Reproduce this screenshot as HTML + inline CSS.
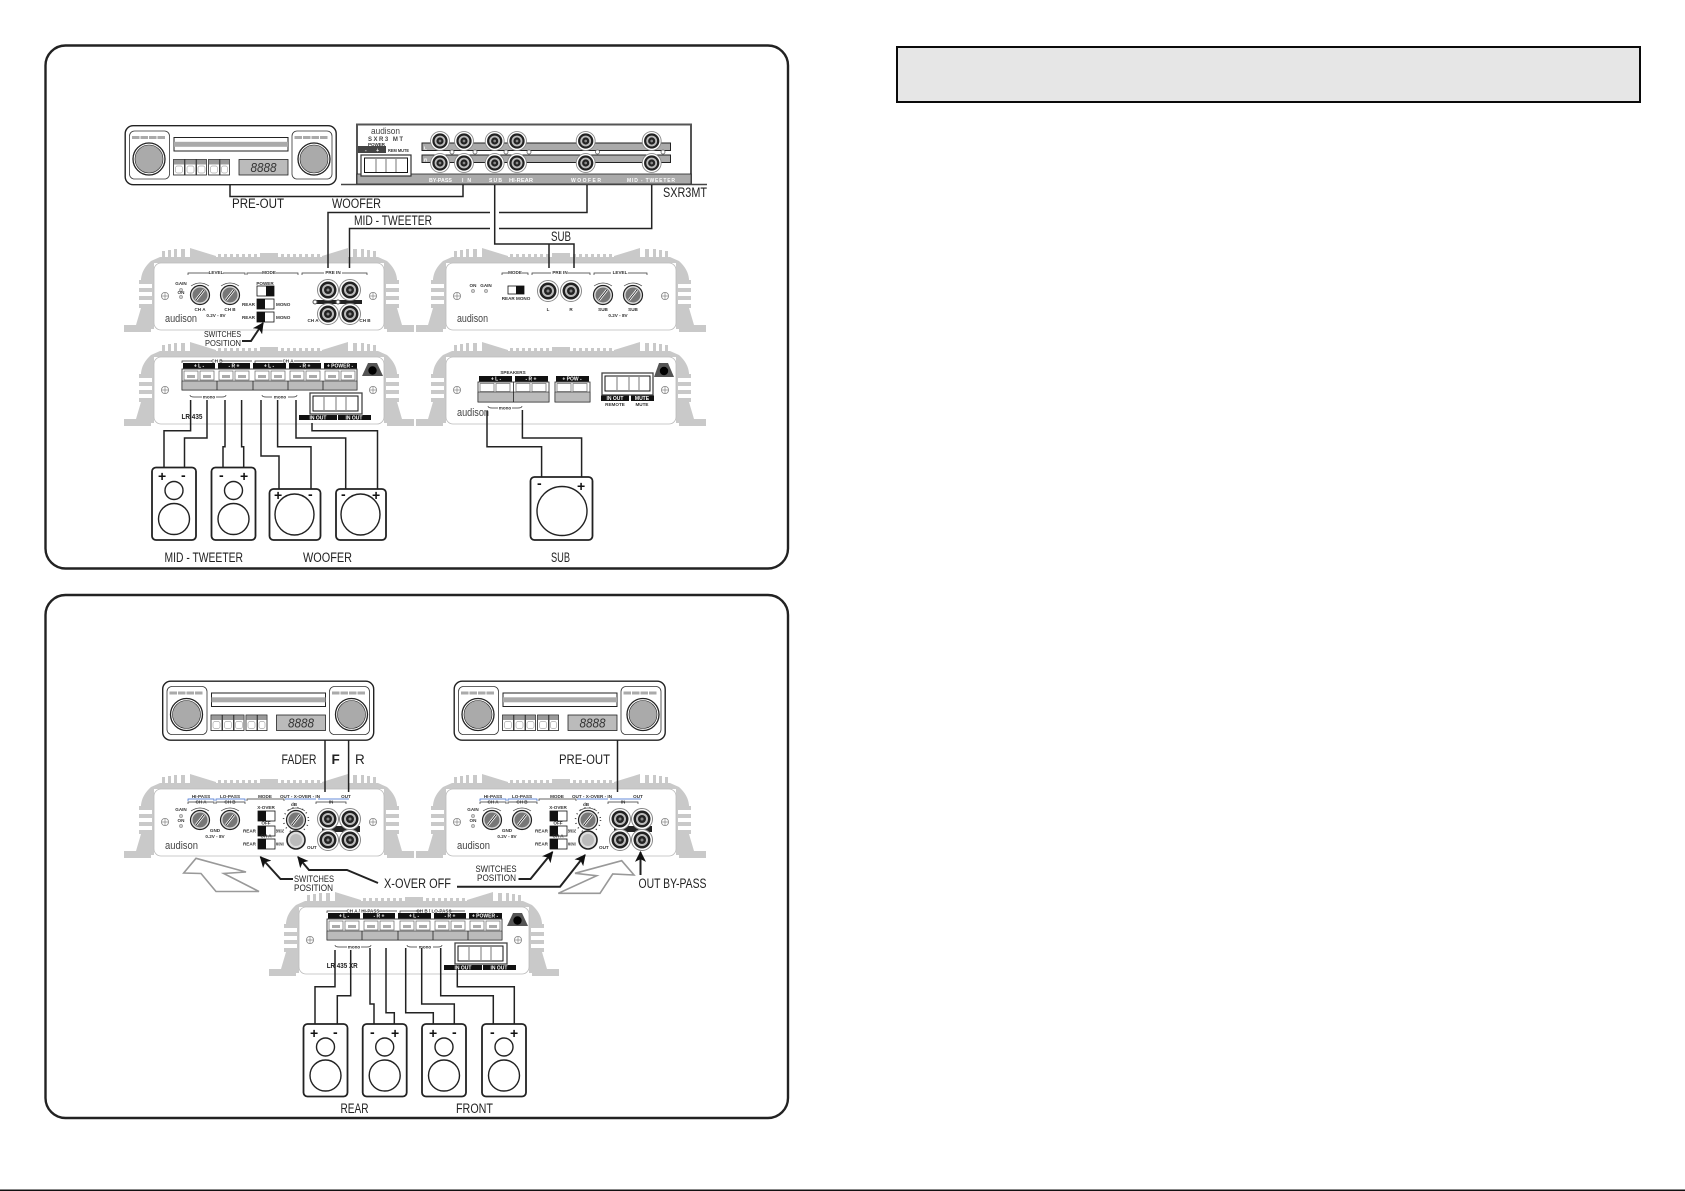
<!DOCTYPE html>
<html><head><meta charset="utf-8"><title>Amplifier wiring diagram</title>
<style>
html,body{margin:0;padding:0;background:#fff}
svg{display:block}
text{font-family:"Liberation Sans",sans-serif;fill:#222}
.l{font-size:13.5px}
.s{font-size:4.6px;font-weight:bold;fill:#333}
.w{font-size:5px;font-weight:bold;fill:#fff}
.au{font-size:11px;fill:#444}
.pm{font-size:14px;font-weight:bold;fill:#111}
.wire{fill:none;stroke:#222;stroke-width:1.5}
.arr{fill:none;stroke:#222;stroke-width:2}
.b{fill:none;stroke:#333;stroke-width:.7}
</style></head>
<body>
<svg width="1685" height="1191" viewBox="0 0 1685 1191" xmlns="http://www.w3.org/2000/svg">
<defs>
<marker id="ah" viewBox="0 0 10 10" refX="9" refY="5" markerWidth="11" markerHeight="11" markerUnits="userSpaceOnUse" orient="auto"><path d="M0 0L10 5L0 10L2.5 5z" fill="#111"/></marker>

<g id="rca"><circle r="10.5" fill="#fff" stroke="#888" stroke-width="1"/><circle r="8.5" fill="#222"/><circle r="6" fill="#bbb"/><circle r="4" fill="#222"/><circle r="1.5" fill="#888"/></g>
<g id="knob"><path d="M-9-9Q0-15 9-9" fill="none" stroke="#444" stroke-width=".7"/><circle r="9.5" fill="#ddd" stroke="#222" stroke-width="1.2"/><circle r="7.5" fill="#777"/><path d="M-4 5L4-5" stroke="#fff" stroke-width="2.5"/><path d="M-4 5L4-5" stroke="#000" stroke-width=".7"/></g>
<g id="screw"><circle r="3.6" fill="none" stroke="#888" stroke-width=".8"/><path d="M-3.6 0H3.6M0-3.6V3.6" stroke="#888" stroke-width=".7"/></g>
<g id="led"><circle r="1.7" fill="#ccc" stroke="#777" stroke-width=".5"/></g>
<g id="sw"><rect width="17" height="10" fill="#fff" stroke="#111" stroke-width=".8"/><rect width="8" height="10" fill="#111"/></g>

<g id="hl" fill="#c9c9c9">
<path d="M-30 69V62H-18L-13 45V16Q-12 6-3-2L6-6H115V0H0V66H-3V69z"/>
<rect x="-15" y="17" width="13" height="4"/><rect x="-15" y="25" width="13" height="4"/><rect x="-15" y="33" width="13" height="4"/><rect x="-15" y="41" width="13" height="4"/>
<rect x="-13" y="21" width="11" height="4" fill="#fff"/><rect x="-13" y="29" width="11" height="4" fill="#fff"/><rect x="-13" y="37" width="11" height="4" fill="#fff"/>
<rect x="8" y="-12" width="3" height="8"/><rect x="14" y="-13" width="3" height="9"/><rect x="20" y="-14" width="3" height="10"/><rect x="27" y="-14" width="4" height="10"/>
<path d="M36-15L62-7V-3H36z"/>
<rect x="64" y="-9" width="3" height="5"/><rect x="70" y="-9" width="3" height="5"/><rect x="76" y="-9" width="3" height="5"/><rect x="82" y="-9" width="3" height="5"/><rect x="88" y="-9" width="3" height="5"/><rect x="94" y="-9" width="3" height="5"/><rect x="100" y="-9" width="3" height="5"/>
<rect x="106" y="-10" width="10" height="6"/>
</g>
<g id="housing">
<use href="#hl"/>
<use href="#hl" transform="translate(230,0) scale(-1,1)"/>
<rect x="0" y="0" width="230" height="67" rx="7" fill="#fff" stroke="#bbb" stroke-width=".8"/>
<use href="#screw" x="11" y="33"/><use href="#screw" x="219" y="33"/>
</g>

<g id="radio">
<rect x=".7" y=".7" width="211" height="59" rx="8" fill="#fff" stroke="#222" stroke-width="1.4"/>
<rect x="5" y="6" width="40" height="48" rx="5" fill="#fff" stroke="#333" stroke-width=".8"/>
<rect x="167.5" y="6" width="40" height="48" rx="5" fill="#fff" stroke="#333" stroke-width=".8"/>
<path d="M7.5 12.5H41M170 12.5H204" stroke="#aaa" stroke-width="3" stroke-dasharray="7.5 1"/>
<circle cx="24.5" cy="34" r="16" fill="#fff" stroke="#222" stroke-width="1.3"/><circle cx="24.5" cy="34" r="14" fill="#aaa" stroke="#222" stroke-width=".6"/>
<circle cx="189.5" cy="34" r="16" fill="#fff" stroke="#222" stroke-width="1.3"/><circle cx="189.5" cy="34" r="14" fill="#aaa" stroke="#222" stroke-width=".6"/>
<rect x="49.5" y="12.5" width="114" height="13.5" fill="#fff" stroke="#222" stroke-width="1"/>
<rect x="49.5" y="16.8" width="114" height="5" fill="#aaa"/>
<g stroke="#222" stroke-width=".8" fill="#fff">
<rect x="49" y="34.5" width="11" height="15.5"/><rect x="60.5" y="34.5" width="11" height="15.5"/><rect x="72" y="34.5" width="10" height="15.5"/><rect x="84" y="34.5" width="11" height="15.5"/><rect x="95.5" y="34.5" width="9.5" height="15.5"/>
</g>
<g fill="#999"><rect x="49.4" y="34.9" width="10.2" height="4.6"/><rect x="60.9" y="34.9" width="10.2" height="4.6"/><rect x="72.4" y="34.9" width="9.2" height="4.6"/><rect x="84.4" y="34.9" width="10.2" height="4.6"/><rect x="95.9" y="34.9" width="8.7" height="4.6"/></g>
<g fill="none" stroke="#aaa" stroke-width=".7"><rect x="51" y="41" width="7" height="7" rx="2"/><rect x="62.5" y="41" width="7" height="7" rx="2"/><rect x="73.5" y="41" width="7" height="7" rx="2"/><rect x="86" y="41" width="7" height="7" rx="2"/><rect x="97" y="41" width="6" height="7" rx="2"/></g>
<rect x="114.5" y="34.5" width="49" height="15.5" fill="#bbb" stroke="#222" stroke-width=".8"/>
<text x="126" y="47" font-size="13" font-style="italic" style="fill:#333" textLength="26" lengthAdjust="spacingAndGlyphs">8888</text>
</g>

<g id="tall"><rect x="0" y="0" width="44" height="72.5" rx="4" fill="#fff" stroke="#222" stroke-width="1.8"/><circle cx="22" cy="23" r="9" fill="#fff" stroke="#222" stroke-width="1.4"/><circle cx="22" cy="51.5" r="15.5" fill="#fff" stroke="#222" stroke-width="1.4"/></g>

<g id="term">
<rect x="28" y="12" width="175" height="21" fill="#fff" stroke="#222" stroke-width=".8"/>
<rect x="28" y="24" width="175" height="9" fill="#bbb" stroke="#222" stroke-width=".6"/>
<path d="M63 24V33M99 24V33M134 24V33M169 24V33" stroke="#222" stroke-width=".8"/>
<g fill="#fff" stroke="#666" stroke-width=".7">
<rect x="30" y="14" width="14" height="9"/><rect x="46" y="14" width="14" height="9"/><rect x="65" y="14" width="14" height="9"/><rect x="81" y="14" width="14" height="9"/><rect x="101" y="14" width="14" height="9"/><rect x="117" y="14" width="14" height="9"/><rect x="136" y="14" width="14" height="9"/><rect x="152" y="14" width="14" height="9"/><rect x="171" y="14" width="14" height="9"/><rect x="187" y="14" width="14" height="9"/>
</g>
<g fill="#aaa"><rect x="33" y="18" width="8" height="3"/><rect x="49" y="18" width="8" height="3"/><rect x="68" y="18" width="8" height="3"/><rect x="84" y="18" width="8" height="3"/><rect x="104" y="18" width="8" height="3"/><rect x="120" y="18" width="8" height="3"/><rect x="139" y="18" width="8" height="3"/><rect x="155" y="18" width="8" height="3"/><rect x="174" y="18" width="8" height="3"/><rect x="190" y="18" width="8" height="3"/></g>
<g fill="#111"><rect x="29" y="6" width="32" height="5.5"/><rect x="64" y="6" width="32" height="5.5"/><rect x="99" y="6" width="33" height="5.5"/><rect x="135" y="6" width="32" height="5.5"/><rect x="170" y="6" width="33" height="5.5"/></g>
<path d="M208 19L214 6H223L229 19z" fill="#555"/><circle cx="218.5" cy="13.5" r="4.2" fill="#000"/>
<path class="b" d="M36 38Q36 40 40 40H48M62 40H68Q72 40 72 38M108 38Q108 40 112 40H118M134 40H139Q143 40 143 38"/>
<text class="s" x="55" y="41.5" text-anchor="middle">mono</text><text class="s" x="126" y="41.5" text-anchor="middle">mono</text>
<rect x="156" y="36" width="52" height="21" fill="#fff" stroke="#444" stroke-width="1.3"/>
<rect x="159" y="39" width="45" height="15" fill="#fff" stroke="#111" stroke-width="1"/>
<path d="M170 40V53M182 40V53M192 40V53" stroke="#bbb" stroke-width="2"/>
<rect x="145" y="58" width="38" height="5" fill="#111"/><rect x="184" y="58" width="33" height="5" fill="#111"/>
</g>

<g id="xamp">
<path class="b" style="stroke:#36c" d="M34 12V10H60V12M62 12V10H91V12M131 10H162M164 10H195"/>
<path class="b" d="M34 15V13H60V15M62 15V13H91V15M93 12V10H130V12M162 15V13H192V15"/>
<text class="s" x="47" y="9" text-anchor="middle">HI-PASS</text><text class="s" x="76" y="9" text-anchor="middle">LO-PASS</text>
<text class="s" x="111" y="9" text-anchor="middle">MODE</text><text class="s" x="146" y="9" text-anchor="middle">OUT - X-OVER - IN</text><text class="s" x="192" y="9" text-anchor="middle">OUT</text>
<text class="s" x="47" y="14.5" text-anchor="middle">CH A</text><text class="s" x="76" y="14.5" text-anchor="middle">CH B</text><text class="s" x="177" y="14.5" text-anchor="middle">IN</text>
<use href="#led" x="27" y="27"/><use href="#led" x="27" y="37"/>
<text class="s" x="27" y="22" text-anchor="middle">GAIN</text><text class="s" x="27" y="33" text-anchor="middle">ON</text>
<use href="#knob" x="46" y="31"/><use href="#knob" x="76" y="31"/>
<text class="s" x="61" y="43" text-anchor="middle">GND</text><text class="s" x="61" y="49" text-anchor="middle">0.2V - 8V</text>
<use href="#sw" x="104" y="22"/><use href="#sw" x="104" y="37"/><use href="#sw" x="104" y="50"/>
<text class="s" x="112" y="20" text-anchor="middle">X-OVER</text><text class="s" x="112" y="35.5" text-anchor="middle">OFF</text><text class="s" x="112" y="48.5" text-anchor="middle">CH A</text>
<text class="s" x="102" y="43.5" text-anchor="end">REAR</text><text class="s" x="102" y="56.5" text-anchor="end">REAR</text>
<text class="s" x="122" y="43.5" textLength="8" lengthAdjust="spacingAndGlyphs">BRIDGE</text><text class="s" x="122" y="56.5" textLength="8" lengthAdjust="spacingAndGlyphs">MONO</text>
<circle cx="142" cy="31" r="12.5" fill="none" stroke="#444" stroke-width="1.5" stroke-dasharray="1 4"/>
<use href="#knob" x="142" y="31"/>
<text class="s" x="140" y="17" text-anchor="middle">dB</text>
<circle cx="142" cy="51" r="9" fill="#ddd" stroke="#222" stroke-width="1.6"/><circle cx="142" cy="51" r="6" fill="#bbb"/>
<text class="s" x="153" y="60">OUT</text>
<path d="M168 37H206V43H168z" fill="#222"/>
<use href="#rca" x="174" y="30"/><use href="#rca" x="196" y="30"/><use href="#rca" x="174" y="51"/><use href="#rca" x="196" y="51"/>
<text class="au" x="11" y="60" textLength="33" lengthAdjust="spacingAndGlyphs">audison</text>
</g>
</defs>

<rect width="1685" height="1191" fill="#fff"/>

<!-- panels -->
<rect x="45.5" y="45.5" width="742.5" height="523" rx="20" fill="#fff" stroke="#222" stroke-width="2.4"/>
<rect x="45.5" y="595" width="742.5" height="523" rx="20" fill="#fff" stroke="#222" stroke-width="2.4"/>
<rect x="897" y="47" width="743" height="55" fill="#e6e6e6" stroke="#0a0a0a" stroke-width="2"/>
<rect x="0" y="1189.5" width="1685" height="1.5" fill="#111"/>

<!-- PANEL 1 -->
<use href="#radio" x="124.5" y="125"/>

<!-- SXR3MT -->
<rect x="357" y="124.5" width="334" height="59.5" fill="#fff" stroke="#555" stroke-width="2"/>
<rect x="357" y="174" width="334" height="10" fill="#aaa" stroke="#222" stroke-width=".8"/>
<path d="M341 184.5H707" stroke="#444" stroke-width="1.6"/>
<rect x="422" y="143" width="248.5" height="7.5" fill="#aaa" stroke="#222" stroke-width="1"/>
<rect x="422" y="155" width="248.5" height="7.5" fill="#aaa" stroke="#222" stroke-width="1"/>
<g fill="#fff" stroke="#666" stroke-width=".8">
<circle cx="452" cy="152" r="2"/><circle cx="475" cy="152" r="2"/><circle cx="506" cy="152" r="2"/><circle cx="529" cy="152" r="2"/><circle cx="597.5" cy="152" r="2"/><circle cx="663" cy="152" r="2"/>
</g>
<g>
<use href="#rca" transform="translate(440,141) scale(.9)"/><use href="#rca" transform="translate(464,141) scale(.9)"/><use href="#rca" transform="translate(494.7,141) scale(.9)"/><use href="#rca" transform="translate(517,141) scale(.9)"/><use href="#rca" transform="translate(585.7,141) scale(.9)"/><use href="#rca" transform="translate(651.7,141) scale(.9)"/>
<use href="#rca" transform="translate(440,163) scale(.9)"/><use href="#rca" transform="translate(464,163) scale(.9)"/><use href="#rca" transform="translate(494.7,163) scale(.9)"/><use href="#rca" transform="translate(517,163) scale(.9)"/><use href="#rca" transform="translate(585.7,163) scale(.9)"/><use href="#rca" transform="translate(651.7,163) scale(.9)"/>
</g>
<text x="424" y="149.5" class="s" style="fill:#fff">L</text><text x="424" y="161.5" class="s" style="fill:#fff">R</text>
<text x="371" y="134" font-size="9.5" style="fill:#444" textLength="29" lengthAdjust="spacingAndGlyphs">audison</text>
<text x="368" y="141" font-size="6" font-weight="bold" style="fill:#444" textLength="35">SXR3 MT</text>
<text x="368" y="146" class="s" textLength="17">POWER</text>
<rect x="358" y="146" width="28" height="7" fill="#444"/>
<text x="365" y="152" class="w" textLength="14">- +</text>
<text x="388" y="152" class="s" textLength="21" lengthAdjust="spacingAndGlyphs">REM MUTE</text>
<rect x="361" y="155" width="50" height="21" fill="#fff" stroke="#333" stroke-width="1.2"/>
<rect x="364.5" y="158" width="43" height="14.5" fill="#fff" stroke="#111"/>
<path d="M376 159V172M386 159V172M396 159V172" stroke="#bbb" stroke-width="2"/>
<text class="w" x="429" y="182" textLength="23" lengthAdjust="spacingAndGlyphs">BY-PASS</text><text class="w" x="462" y="182" textLength="9">IN</text>
<text class="w" x="489" y="182" textLength="13">SUB</text><text class="w" x="509" y="182" textLength="24" lengthAdjust="spacingAndGlyphs">HI-REAR</text>
<text class="w" x="571" y="182" textLength="30">WOOFER</text><text class="w" x="627" y="182" textLength="48">MID - TWEETER</text>

<!-- amps panel 1 -->
<use href="#housing" x="154" y="263"/>
<use href="#housing" x="446" y="263"/>
<use href="#housing" x="154" y="357"/>
<use href="#housing" x="446" y="357"/>

<!-- amp 1 -->
<g transform="translate(154,263)">
<path class="b" d="M34 12V10H55M69 10H91V12M93 12V10H108M122 10H144V12M148 12V10H170M188 10H213V12"/>
<text class="s" x="62" y="11" text-anchor="middle">LEVEL</text><text class="s" x="115" y="11" text-anchor="middle">MODE</text><text class="s" x="179" y="11" text-anchor="middle">PRE IN</text>
<use href="#led" x="27" y="27"/><use href="#led" x="27" y="34"/>
<text class="s" x="27" y="22" text-anchor="middle">GAIN</text><text class="s" x="27" y="31" text-anchor="middle">ON</text>
<use href="#knob" x="46" y="32"/><use href="#knob" x="76" y="32"/>
<text class="s" x="46" y="48" text-anchor="middle">CH A</text><text class="s" x="76" y="48" text-anchor="middle">CH B</text>
<text class="s" x="62" y="54" text-anchor="middle">0.2V - 8V</text>
<text class="au" x="11" y="59" textLength="32" lengthAdjust="spacingAndGlyphs">audison</text>
<use href="#sw" transform="translate(103,23) scale(-1,1) translate(-17,0)"/><use href="#sw" x="103" y="36"/><use href="#sw" x="103" y="49"/>
<text class="s" x="111" y="22" text-anchor="middle">POWER</text><text class="s" x="101" y="43" text-anchor="end">REAR</text><text class="s" x="101" y="56" text-anchor="end">REAR</text>
<text class="s" x="122" y="43">MONO</text><text class="s" x="122" y="56">MONO</text>
<path d="M162 37L208 37V41H162z" fill="#222"/>
<use href="#rca" x="174" y="27"/><use href="#rca" x="196" y="27"/><use href="#rca" x="174" y="51"/><use href="#rca" x="196" y="51"/>
<circle cx="161" cy="39" r="2" fill="#fff" stroke="#555"/><circle cx="184" cy="39" r="2" fill="#fff" stroke="#555"/>
<text class="s" x="159" y="59" text-anchor="middle">CH A</text><text class="s" x="211" y="59" text-anchor="middle">CH B</text>
</g>

<!-- amp 2 -->
<g transform="translate(446,263)">
<path class="b" d="M56 12V10H62M76 10H82V12M86 12V10H105M122 10H144V12M148 12V10H165M182 10H201V12"/>
<text class="s" x="69" y="11" text-anchor="middle">MODE</text><text class="s" x="114" y="11" text-anchor="middle">PRE IN</text><text class="s" x="174" y="11" text-anchor="middle">LEVEL</text>
<use href="#led" x="27" y="28"/><use href="#led" x="40" y="28"/>
<text class="s" x="27" y="24" text-anchor="middle">ON</text><text class="s" x="40" y="24" text-anchor="middle">GAIN</text>
<rect x="62" y="23" width="16" height="8" fill="#fff" stroke="#111" stroke-width=".8"/><rect x="70" y="23" width="8" height="8" fill="#111"/>
<text class="s" x="70" y="37" text-anchor="middle">REAR MONO</text>
<use href="#rca" x="102" y="28"/><use href="#rca" x="125" y="28"/>
<text class="s" x="102" y="48" text-anchor="middle">L</text><text class="s" x="125" y="48" text-anchor="middle">R</text>
<use href="#knob" x="157" y="32"/><use href="#knob" x="187" y="32"/>
<text class="s" x="157" y="48" text-anchor="middle">SUB</text><text class="s" x="187" y="48" text-anchor="middle">SUB</text>
<text class="s" x="172" y="54" text-anchor="middle">0.2V - 8V</text>
<text class="au" x="11" y="59" textLength="31" lengthAdjust="spacingAndGlyphs">audison</text>
</g>

<!-- amp 3 -->
<g transform="translate(154,357)">
<use href="#term"/>
<path class="b" d="M28 6V4H58M68 4H98M101 6V4H128M140 4H166"/>
<text class="s" x="63" y="5.5" text-anchor="middle">CH B</text><text class="s" x="134" y="5.5" text-anchor="middle">CH A</text>
<text class="w" x="45" y="10.7" text-anchor="middle">+ L -</text><text class="w" x="80" y="10.7" text-anchor="middle">- R +</text><text class="w" x="115" y="10.7" text-anchor="middle">+ L -</text><text class="w" x="151" y="10.7" text-anchor="middle">- R +</text><text class="w" x="186" y="10.7" text-anchor="middle">+ POWER -</text>
<text class="w" x="164" y="62.5" text-anchor="middle">IN OUT</text><text class="w" x="200" y="62.5" text-anchor="middle">IN OUT</text>
</g>
<text x="181.5" y="419" font-size="7.5" font-weight="bold" textLength="21" lengthAdjust="spacingAndGlyphs">LR 435</text>

<!-- amp 4 -->
<g transform="translate(446,357)">
<rect x="32" y="25" width="71" height="20" fill="#fff" stroke="#222" stroke-width=".8"/>
<rect x="32" y="35" width="71" height="10" fill="#bbb" stroke="#222" stroke-width=".6"/>
<path d="M67.500 25V45" stroke="#222" stroke-width=".8"/>
<rect x="109" y="25" width="35" height="20" fill="#fff" stroke="#222" stroke-width=".8"/>
<rect x="109" y="35" width="35" height="10" fill="#bbb" stroke="#222" stroke-width=".6"/>
<g fill="#fff" stroke="#666" stroke-width=".7">
<rect x="34" y="26.500" width="14" height="8"/><rect x="50" y="26.500" width="14" height="8"/><rect x="70" y="26.500" width="14" height="8"/><rect x="86" y="26.500" width="14" height="8"/><rect x="111" y="26.500" width="14" height="8"/><rect x="127" y="26.500" width="14" height="8"/>
</g>
<g fill="#111"><rect x="33" y="19" width="33" height="5.500"/><rect x="69" y="19" width="33" height="5.500"/><rect x="110" y="19" width="33" height="5.500"/><rect x="155" y="38.500" width="28" height="5.500"/><rect x="185" y="38.500" width="23" height="5.500"/></g>
<text class="s" x="67" y="17" text-anchor="middle">SPEAKERS</text>
<text class="w" x="50" y="23.700" text-anchor="middle">+ L -</text><text class="w" x="85" y="23.700" text-anchor="middle">- R +</text><text class="w" x="126" y="23.700" text-anchor="middle">+ POW -</text>
<rect x="156" y="16" width="51" height="22" fill="#fff" stroke="#444" stroke-width="1.3"/>
<rect x="159" y="19" width="45" height="15" fill="#fff" stroke="#111"/>
<path d="M171 20V33M183 20V33M193 20V33" stroke="#bbb" stroke-width="2"/>
<text class="w" x="169" y="43.200" text-anchor="middle">IN OUT</text><text class="w" x="196" y="43.200" text-anchor="middle">MUTE</text>
<text class="s" x="169" y="49" text-anchor="middle">REMOTE</text><text class="s" x="196" y="49" text-anchor="middle">MUTE</text>
<path d="M208 20L213 6H222L228 20z" fill="#555"/><circle cx="218" cy="14" r="4.200" fill="#000"/>
<path class="b" d="M42 49Q42 51 46 51H52M66 51H72Q76 51 76 49"/>
<text class="s" x="59" y="52.500" text-anchor="middle">mono</text>
<text class="au" x="11" y="59" textLength="32" lengthAdjust="spacingAndGlyphs">audison</text>
</g>

<!-- wires panel 1 -->
<path class="wire" d="M230 185V196.5H463V184.5"/>
<path class="wire" d="M587 185V212.5H499M490 212.5H328V268"/>
<path class="wire" d="M651.7 185V228.5H499M490 228.5H349.5V268"/>
<path class="wire" d="M494.7 185V244H574V268M549 244V268"/>
<path class="wire" d="M190.6 400V430.7H164V467.5"/>
<path class="wire" d="M207 400V438H184.5V467.5"/>
<path class="wire" d="M225 400V446.7H223V467.5"/>
<path class="wire" d="M241.6 400V446.7H243.7V467.5"/>
<path class="wire" d="M261 400V456H279V489"/>
<path class="wire" d="M277.6 400V446.7H311V489"/>
<path class="wire" d="M296 400V438H345.7V489"/>
<path class="wire" d="M312 423V430.7H377.500V489"/>
<path class="wire" d="M487 411V446.7H541.6V477"/>
<path class="wire" d="M522.4 410V438H581.6V477"/>

<text class="l" x="232" y="208" textLength="52" lengthAdjust="spacingAndGlyphs">PRE-OUT</text>
<text class="l" x="332" y="208" textLength="49" lengthAdjust="spacingAndGlyphs">WOOFER</text>
<text class="l" x="354" y="225" textLength="78" lengthAdjust="spacingAndGlyphs">MID - TWEETER</text>
<text class="l" x="551" y="241" textLength="20" lengthAdjust="spacingAndGlyphs">SUB</text>
<text class="l" x="663" y="197" textLength="44" lengthAdjust="spacingAndGlyphs">SXR3MT</text>
<text x="204" y="337" font-size="8.5" textLength="37" lengthAdjust="spacingAndGlyphs">SWITCHES</text>
<text x="205" y="346" font-size="8.5" textLength="36" lengthAdjust="spacingAndGlyphs">POSITION</text>
<path class="arr" marker-end="url(#ah)" d="M242 341H251L263 323"/>

<!-- speakers panel 1 -->
<use href="#tall" x="152" y="467.5"/><use href="#tall" x="211.5" y="467.5"/>
<g fill="#fff" stroke="#222" stroke-width="1.8"><rect x="269.5" y="489" width="51" height="51" rx="4"/><rect x="336" y="489" width="50" height="51" rx="4"/><rect x="530.5" y="477" width="62" height="63" rx="4"/></g>
<g fill="none" stroke="#222" stroke-width="1.4"><ellipse cx="294.500" cy="514.500" rx="19.500" ry="20.500"/><ellipse cx="360.500" cy="514.500" rx="19.500" ry="20.500"/><ellipse cx="562" cy="511" rx="25" ry="24.500"/></g>
<text class="pm" x="158" y="481">+</text><text class="pm" x="181" y="480">-</text>
<text class="pm" x="219" y="480">-</text><text class="pm" x="240" y="481">+</text>
<text class="pm" x="274" y="500">+</text><text class="pm" x="308" y="499">-</text>
<text class="pm" x="341" y="499">-</text><text class="pm" x="372" y="500">+</text>
<text class="pm" x="537" y="488">-</text><text class="pm" x="577" y="491">+</text>
<text class="l" x="164.5" y="562" textLength="78.5" lengthAdjust="spacingAndGlyphs">MID - TWEETER</text>
<text class="l" x="303" y="562" textLength="49" lengthAdjust="spacingAndGlyphs">WOOFER</text>
<text class="l" x="551" y="562" textLength="19" lengthAdjust="spacingAndGlyphs">SUB</text>

<!-- PANEL 2 -->
<use href="#radio" x="162" y="680.5"/>
<use href="#radio" x="453.5" y="680.5"/>
<use href="#housing" x="154" y="789"/>
<use href="#housing" x="446" y="789"/>
<g transform="translate(154,789)"><use href="#xamp"/></g>
<g transform="translate(446,789)"><use href="#xamp"/></g>
<use href="#housing" x="299" y="907"/>
<g transform="translate(299,907)">
<use href="#term"/>
<path class="b" d="M28 6V4H48M80 4H98M101 6V4H121M150 4H166"/>
<text class="s" x="64" y="5.5" text-anchor="middle">CH A / HI-PASS</text><text class="s" x="135" y="5.5" text-anchor="middle">CH B / LO-PASS</text>
<text class="w" x="45" y="10.7" text-anchor="middle">+ L -</text><text class="w" x="80" y="10.7" text-anchor="middle">- R +</text><text class="w" x="115" y="10.7" text-anchor="middle">+ L -</text><text class="w" x="151" y="10.7" text-anchor="middle">- R +</text><text class="w" x="186" y="10.7" text-anchor="middle">+ POWER -</text>
<text class="w" x="164" y="62.5" text-anchor="middle">IN OUT</text><text class="w" x="200" y="62.5" text-anchor="middle">IN OUT</text>
</g>
<text x="326.7" y="968" font-size="7.5" font-weight="bold" textLength="31" lengthAdjust="spacingAndGlyphs">LR 435 XR</text>

<!-- panel 2 wires -->
<path class="wire" d="M325 740V792M348.6 740V792M617.5 740V792"/>
<text class="l" x="281.5" y="764" textLength="35" lengthAdjust="spacingAndGlyphs">FADER</text>
<text class="l" x="331.5" y="764" font-weight="bold">F</text>
<text class="l" x="355" y="764">R</text>
<text class="l" x="559" y="764" textLength="51" lengthAdjust="spacingAndGlyphs">PRE-OUT</text>

<!-- outline arrows -->
<path d="M196 858.3L246 872L223.7 873.5L259 891.5H216L201 873.5L183.7 873z" fill="#fff" stroke="#999" stroke-width="1.6"/>
<path d="M621.7 860.7L634 875L612.7 874L600 893.3H558.3L596.7 875.7L575 873.3z" fill="#fff" stroke="#999" stroke-width="1.6"/>

<path class="arr" marker-end="url(#ah)" d="M293 879H280.5L260.5 857"/>
<path class="arr" marker-end="url(#ah)" d="M378 883L347 870H309L298 857"/>
<path class="arr" marker-end="url(#ah)" d="M457 886.7H560L585 855"/>
<path class="arr" marker-end="url(#ah)" d="M518.5 879H530.5L552.5 852"/>
<path class="arr" marker-end="url(#ah)" d="M640.5 875V852"/>
<text x="294" y="882" font-size="9.5" textLength="40" lengthAdjust="spacingAndGlyphs">SWITCHES</text>
<text x="294" y="891" font-size="9.5" textLength="39" lengthAdjust="spacingAndGlyphs">POSITION</text>
<text x="475.5" y="872" font-size="9.5" textLength="41" lengthAdjust="spacingAndGlyphs">SWITCHES</text>
<text x="477" y="881" font-size="9.5" textLength="39" lengthAdjust="spacingAndGlyphs">POSITION</text>
<text class="l" x="384" y="888" textLength="67" lengthAdjust="spacingAndGlyphs">X-OVER OFF</text>
<text class="l" x="638.5" y="888" textLength="68" lengthAdjust="spacingAndGlyphs">OUT BY-PASS</text>

<!-- bottom wires -->
<path class="wire" d="M335 950V986.7H315V1024"/>
<path class="wire" d="M350.7 950V995.7H337.3V1024"/>
<path class="wire" d="M370 948V1004H374V1024"/>
<path class="wire" d="M386 948V1012.7H394.3V1024"/>
<path class="wire" d="M405.7 948V1012.7H433.3V1024"/>
<path class="wire" d="M421.7 948V1004H454.3V1024"/>
<path class="wire" d="M440.7 948V995.7H493.3V1024"/>
<path class="wire" d="M457.3 970V986.7H514.3V1024"/>

<use href="#tall" x="303.5" y="1024"/><use href="#tall" x="362.7" y="1024"/><use href="#tall" x="422" y="1024"/><use href="#tall" x="482" y="1024"/>
<text class="pm" x="310" y="1038">+</text><text class="pm" x="333" y="1037">-</text>
<text class="pm" x="370" y="1037">-</text><text class="pm" x="391" y="1038">+</text>
<text class="pm" x="429" y="1038">+</text><text class="pm" x="452" y="1037">-</text>
<text class="pm" x="490" y="1037">-</text><text class="pm" x="510" y="1038">+</text>
<text class="l" x="340.5" y="1113" textLength="28" lengthAdjust="spacingAndGlyphs">REAR</text>
<text class="l" x="456" y="1113" textLength="37" lengthAdjust="spacingAndGlyphs">FRONT</text>
</svg>
</body></html>
